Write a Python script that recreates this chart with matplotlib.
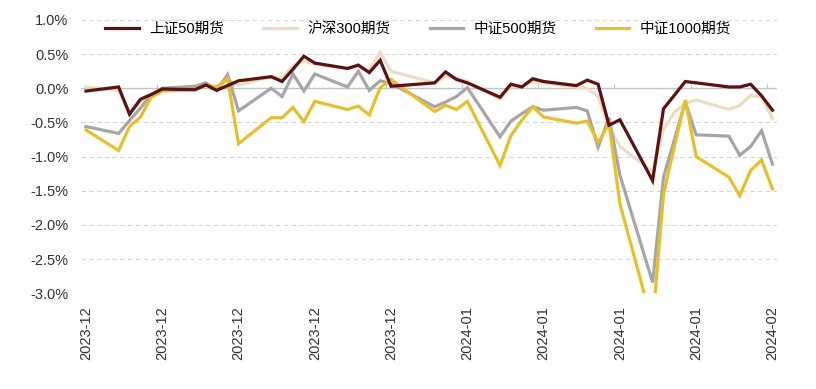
import pandas as pd
import matplotlib
matplotlib.use("Agg")
import matplotlib.pyplot as plt
import matplotlib.dates as mdates
from matplotlib.ticker import FuncFormatter, MultipleLocator

plt.rcParams['font.family'] = ['Liberation Sans', 'Noto Sans CJK SC', 'DejaVu Sans']

# trading days
dates = ['2023-12-01', '2023-12-04', '2023-12-05', '2023-12-06', '2023-12-07', '2023-12-08',
         '2023-12-11', '2023-12-12', '2023-12-13', '2023-12-14', '2023-12-15',
         '2023-12-18', '2023-12-19', '2023-12-20', '2023-12-21', '2023-12-22',
         '2023-12-25', '2023-12-26', '2023-12-27', '2023-12-28', '2023-12-29',
         '2024-01-02', '2024-01-03', '2024-01-04', '2024-01-05',
         '2024-01-08', '2024-01-09', '2024-01-10', '2024-01-11', '2024-01-12',
         '2024-01-15', '2024-01-16', '2024-01-17', '2024-01-18', '2024-01-19',
         '2024-01-22', '2024-01-23', '2024-01-24', '2024-01-25', '2024-01-26',
         '2024-01-29', '2024-01-30', '2024-01-31', '2024-02-01', '2024-02-02']

# values in %
sz50 = [-0.04, 0.02, -0.38, -0.16, -0.09, -0.01,
        -0.02, 0.05, -0.03, 0.04, 0.11,
        0.17, 0.10, 0.28, 0.47, 0.37,
        0.29, 0.34, 0.23, 0.41, 0.03,
        0.08, 0.24, 0.13, 0.08,
        -0.13, 0.06, 0.02, 0.14, 0.10,
        0.04, 0.12, 0.06, -0.54, -0.46,
        -1.35, -0.30, -0.10, 0.10, 0.08,
        0.02, 0.02, 0.06, -0.11, -0.32]
hs300 = [0.02, -0.03, -0.34, -0.20, -0.10, 0.00,
         0.00, 0.06, 0.00, 0.12, 0.05,
         0.17, 0.15, 0.33, 0.40, 0.35,
         0.30, 0.32, 0.25, 0.53, 0.25,
         0.08, 0.18, 0.15, 0.10,
         -0.16, 0.02, 0.03, 0.10, 0.08,
         0.02, 0.00, -0.12, -0.56, -0.85,
         -1.22, -0.60, -0.35, -0.22, -0.17,
         -0.31, -0.25, -0.10, -0.13, -0.44]
zz500 = [-0.56, -0.66, -0.47, -0.29, -0.10, 0.00,
         0.03, 0.08, -0.03, 0.20, -0.33,
         0.00, -0.12, 0.21, -0.04, 0.21,
         0.02, 0.25, -0.03, 0.11, 0.07,
         -0.27, -0.20, -0.12, 0.01,
         -0.71, -0.48, -0.37, -0.27, -0.32,
         -0.28, -0.33, -0.86, -0.43, -1.27,
         -2.84, -1.30, -0.75, -0.20, -0.68,
         -0.70, -0.98, -0.85, -0.62, -1.11]
zz1000 = [-0.61, -0.91, -0.56, -0.42, -0.13, -0.04,
          -0.02, 0.05, 0.02, 0.14, -0.81,
          -0.43, -0.43, -0.28, -0.49, -0.19,
          -0.31, -0.26, -0.39, 0.01, 0.13,
          -0.34, -0.25, -0.31, -0.19,
          -1.13, -0.69, -0.47, -0.27, -0.42,
          -0.51, -0.48, -0.79, -0.52, -1.69,
          -3.45, -1.55, -0.85, -0.17, -1.00,
          -1.30, -1.57, -1.20, -1.05, -1.47]

labels = ['上证50期货', '沪深300期货', '中证500期货', '中证1000期货']
colors = ['#5a1212', '#ebdcc4', '#a6a6a6', '#e5c02c']

x = pd.to_datetime(dates)

fig = plt.figure(figsize=(8.16, 3.89), dpi=100)
ax = fig.add_axes([0.0993, 0.246, 0.8527, 0.7026])

series = [sz50, hs300, zz500, zz1000]
zorders = [6, 3, 4, 5]
for vals, lab, c, z in zip(series, labels, colors, zorders):
    ax.plot(x, vals, color=c, lw=2.3, label=lab, zorder=z, solid_joinstyle='miter')

ax.set_ylim(-3.0, 1.0)
one_day = pd.Timedelta(days=1)
ax.set_xlim(x[0] - 0.45 * one_day, x[-1] + 0.4 * one_day)

ax.yaxis.set_major_locator(MultipleLocator(0.5))
ax.yaxis.set_major_formatter(FuncFormatter(lambda v, p: f'{v:.1f}%'))
ax.tick_params(axis='y', length=0, pad=9, labelsize=10.5, labelcolor='#333333')

for yv in [1.0, 0.5, -0.5, -1.0, -1.5, -2.0, -2.5, -3.0]:
    ax.axhline(yv, color='#d4d4d4', lw=0.8, ls=(0, (4, 3)), zorder=1)
ax.axhline(0, color='#c4c4c4', lw=1.0, zorder=2)

ticks = pd.date_range(dates[0], dates[-1], freq='7D')
ax.set_xticks(ticks)
ax.xaxis.set_major_formatter(mdates.DateFormatter('%Y-%m'))
ax.tick_params(axis='x', length=0, pad=9, labelsize=10.5, labelcolor='#333333',
               labelrotation=90)

# small tick marks on the zero line
sec = ax.secondary_xaxis(0.75)
sec.set_xticks(ticks - 0.5 * one_day)
sec.tick_params(axis='x', direction='out', length=3, color='#c4c4c4', labelbottom=False,
                labeltop=False, labelsize=0)
sec.set_xticklabels([])
for s in sec.spines.values():
    s.set_visible(False)

for s in ax.spines.values():
    s.set_visible(False)

ax.legend(loc='center left', bbox_to_anchor=(0.035, 0.967), ncol=4, frameon=False,
          fontsize=10.5, handlelength=2.3, handletextpad=0.7, columnspacing=2.7,
          borderaxespad=0, borderpad=0)

fig.savefig('out.png', dpi=100, facecolor='white')
